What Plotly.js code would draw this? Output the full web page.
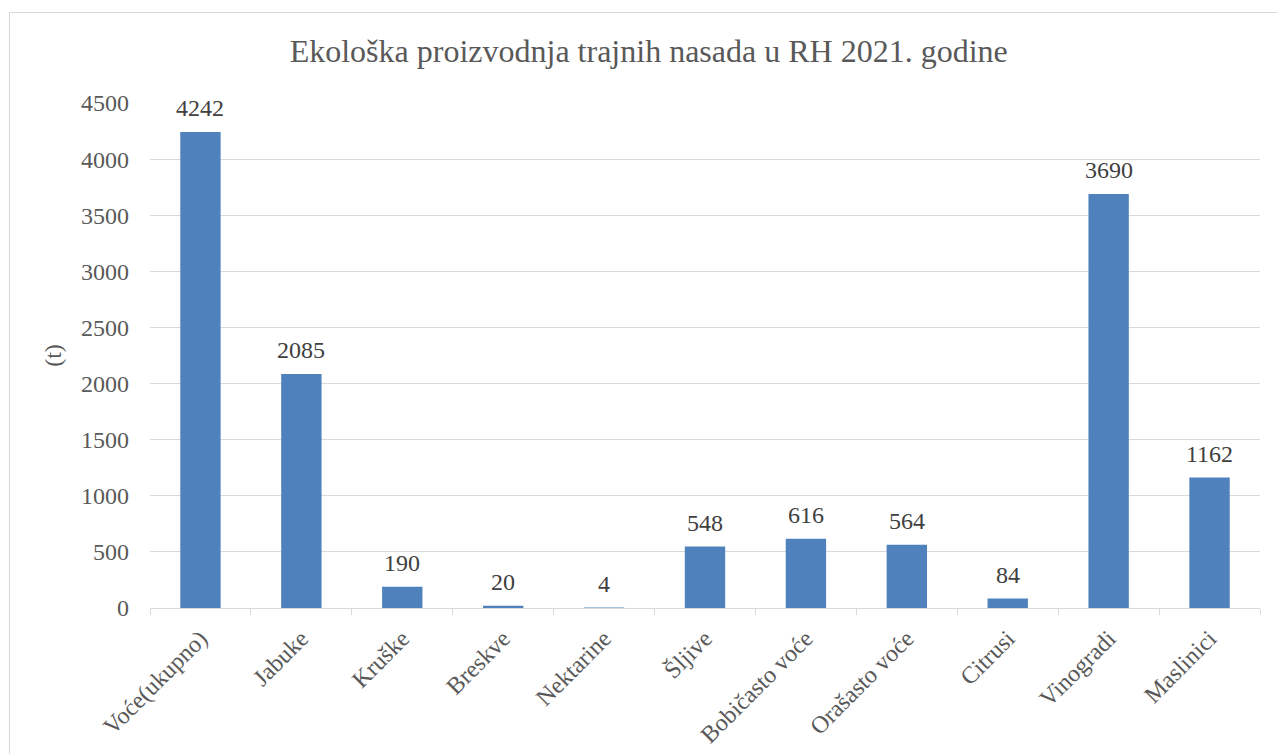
<!DOCTYPE html>
<html>
<head>
<meta charset="utf-8">
<script src="https://cdn.plot.ly/plotly-3.0.1.min.js"></script>
<style>
html,body{margin:0;padding:0;background:#fff;overflow:hidden;}
#frame{position:absolute;left:9px;top:12px;width:1300px;height:800px;border:1px solid #d9d9d9;box-sizing:border-box;}
#chart{position:absolute;left:0;top:0;width:1277px;height:754px;}
</style>
</head>
<body>
<div id="frame"></div>
<div id="chart"></div>
<script>
const categories = ["Voće(ukupno)", "Jabuke", "Kruške", "Breskve", "Nektarine", "Šljive", "Bobičasto voće", "Orašasto voće", "Citrusi", "Vinogradi", "Maslinici"];
const values = [4242, 2085, 190, 20, 4, 548, 616, 564, 84, 3690, 1162];
const yTicks = [0, 500, 1000, 1500, 2000, 2500, 3000, 3500, 4000, 4500];

const FONT = 'Liberation Serif, Times New Roman, serif';

const trace = {
  type: 'bar',
  x: categories,
  y: values,
  width: 0.4,
  marker: {color: '#4f81bd'},
  hoverinfo: 'x+y'
};

const annotations = categories.map((c, i) => ({
  x: c, y: values[i], xref: 'x', yref: 'y',
  text: String(values[i]),
  showarrow: false,
  yanchor: 'bottom',
  yshift: 9,
  font: {family: FONT, size: 24, color: '#404040'}
}));

const layout = {
  width: 1277, height: 754,
  paper_bgcolor: 'rgba(0,0,0,0)',
  plot_bgcolor: 'rgba(0,0,0,0)',
  margin: {l: 150, r: 17, t: 103, b: 146},
  title: {
    text: 'Ekološka proizvodnja trajnih nasada u RH 2021. godine',
    font: {family: FONT, size: 32, color: '#595959'},
    x: 0.508, xanchor: 'center', y: 0.932, yanchor: 'middle'
  },
  showlegend: false,
  bargap: 0.6,
  xaxis: {
    type: 'category',
    showgrid: false,
    showline: true, linecolor: '#d9d9d9', linewidth: 1,
    ticks: 'outside', tickson: 'boundaries', ticklen: 6, tickcolor: '#d9d9d9',
    tickangle: -45,
    ticklabelstandoff: 6,
    tickfont: {family: FONT, size: 24, color: '#595959'},
    fixedrange: true
  },
  yaxis: {
    range: [0, 4500],
    tickvals: yTicks,
    ticktext: yTicks.map(String),
    showgrid: true, gridcolor: '#d9d9d9', gridwidth: 1,
    zeroline: false,
    showline: false,
    ticks: '',
    ticklabelstandoff: 20,
    tickfont: {family: FONT, size: 24, color: '#595959'},
    title: {text: '(t)', font: {family: FONT, size: 24, color: '#595959'}, standoff: 12},
    fixedrange: true
  },
  annotations: annotations
};

Plotly.newPlot('chart', [trace], layout, {displayModeBar: false, staticPlot: true});
</script>
</body>
</html>
